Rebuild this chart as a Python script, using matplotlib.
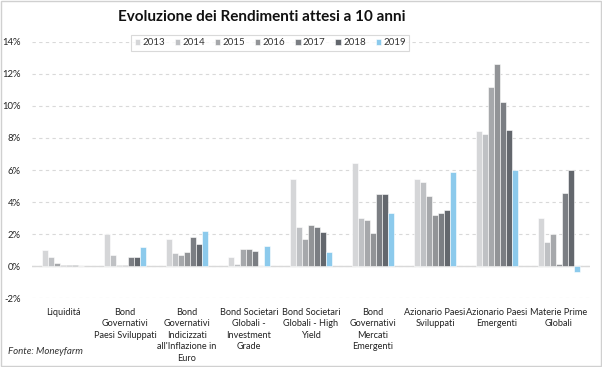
import matplotlib
matplotlib.use("Agg")
import matplotlib.pyplot as plt
import numpy as np
from matplotlib.patches import Rectangle

categories = [
    "Liquiditá",
    "Bond\nGovernativi\nPaesi Sviluppati",
    "Bond\nGovernativi\nIndicizzati\nall'Inflazione in\nEuro",
    "Bond Societari\nGlobali -\nInvestment\nGrade",
    "Bond Societari\nGlobali - High\nYield",
    "Bond\nGovernativi\nMercati\nEmergenti",
    "Azionario Paesi\nSviluppati",
    "Azionario Paesi\nEmergenti",
    "Materie Prime\nGlobali",
]
years = ["2013", "2014", "2015", "2016", "2017", "2018", "2019"]
v2013 = [1.00, 2.00, 1.67, 0.60, 5.42, 6.44, 5.42, 8.43, 2.98]
v2014 = [0.60, 0.68, 0.80, 0.16, 2.47, 2.98, 5.27, 8.25, 1.50]
v2015 = [0.20, 0.08, 0.68, 1.05, 1.69, 2.90, 4.37, 11.20, 1.99]
v2016 = [0.10, 0.08, 0.88, 1.05, 2.57, 2.05, 3.19, 12.60, 0.12]
v2017 = [0.10, 0.56, 1.83, 0.94, 2.44, 4.50, 3.29, 10.27, 4.59]
v2018 = [0.08, 0.56, 1.36, 0.00, 2.14, 4.50, 3.52, 8.47, 5.99]
v2019 = [0.00, 1.20, 2.22, 1.27, 0.91, 3.31, 5.86, 5.99, -0.37]
series = [v2013, v2014, v2015, v2016, v2017, v2018, v2019]
colors = ["#D5D6D8", "#BFC1C4", "#A6A8AB", "#929497", "#7B7E83", "#63676D", "#8CCAEC"]

plt.rcParams["font.family"] = ["Lato", "DejaVu Sans"]

fig = plt.figure(figsize=(6.02, 3.67), dpi=100)
ax = fig.add_axes([32/602, (367-298.3)/367, (590-32)/602, (298.3-41.7)/367])

n = len(categories)
x = np.arange(n)
slot = 0.098
ax.axhline(0, color="#D9D9D9", linewidth=1.0, zorder=2)
for i, (vals, c, yr) in enumerate(zip(series, colors, years)):
    offs = (i - 3) * slot
    ax.bar(x + offs, vals, width=slot, color=c, edgecolor="white", linewidth=0.4, label=yr, zorder=3)

ax.set_xlim(-0.5, n - 0.5)
ax.set_ylim(-2, 14)
ax.set_yticks(np.arange(-2, 15, 2))
ax.set_yticklabels([f"{t}%" for t in range(-2, 15, 2)], fontsize=6.8, color="#222222")
ax.yaxis.grid(True, linestyle=(0, (3, 3)), color="#D9D9D9", linewidth=0.8, zorder=0)
for s in ax.spines.values():
    s.set_visible(False)
ax.tick_params(axis="y", length=0, pad=8)
ax.tick_params(axis="x", length=0, pad=7)
ax.set_xticks(x)
ax.set_xticklabels(categories, fontsize=6.6, color="#222222", linespacing=1.35, va="top")

leg = ax.legend(loc="upper center", bbox_to_anchor=(0.427, 1.045), ncol=7, fontsize=7,
                frameon=True, handlelength=0.55, handleheight=0.55, handletextpad=0.25,
                columnspacing=1.0, borderpad=0.35, fancybox=False)
leg.get_frame().set_edgecolor("#D0D0D0")
leg.get_frame().set_linewidth(0.8)
for t in leg.get_texts():
    t.set_color("#333333")

fig.text(0.434, 0.953, "Evoluzione dei Rendimenti attesi a 10 anni", ha="center", va="center",
         fontsize=11, fontweight="bold", family=["Lato", "DejaVu Sans"], color="#111111")
fig.text(8/602, 1 - 352/367, "Fonte: Moneyfarm", ha="left", va="center", fontsize=7,
         style="italic", color="#333333")

fig.patches.append(Rectangle((0.001, 0.002), 0.997, 0.995, transform=fig.transFigure,
                             fill=False, edgecolor="#D0D0D0", linewidth=1.0))

fig.savefig("out.png", dpi=100)
